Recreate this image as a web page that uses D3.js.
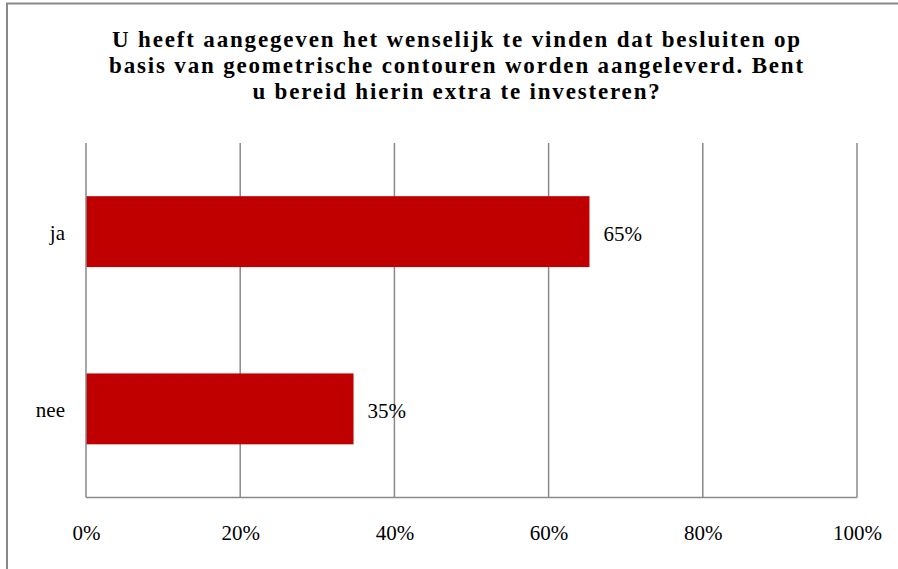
<!DOCTYPE html>
<html>
<head>
<meta charset="utf-8">
<script src="https://cdn.jsdelivr.net/npm/d3@7"></script>
<style>
  body { margin: 0; background: #fff; }
  svg { display: block; }
</style>
</head>
<body>
<div id="chart"></div>
<script>
// data
var categories = ["ja", "nee"];
var values = [0.653, 0.347];
var valueLabels = ["65%", "35%"];
var ticks = [0, 0.2, 0.4, 0.6, 0.8, 1.0];
var titleLines = [
    "U heeft aangegeven het wenselijk te vinden dat besluiten op",
    "basis van geometrische contouren worden aangeleverd. Bent",
    "u bereid hierin extra te investeren?"
];

var W = 898, H = 569;
var margin = { top: 143, right: 41, bottom: 71.5, left: 86 },
    width = W - margin.left - margin.right,
    height = H - margin.top - margin.bottom;

var gridColor = "#898989";
var font = "'Liberation Serif', 'Times New Roman', serif";

var svg = d3.select("#chart")
    .append("svg")
    .attr("width", W)
    .attr("height", H);

// outer chart border (runs off the right / bottom edge)
svg.append("rect")
    .attr("x", 7)
    .attr("y", 3.5)
    .attr("width", W + 20)
    .attr("height", H + 20)
    .attr("fill", "none")
    .attr("stroke", gridColor)
    .attr("stroke-width", 2);

// title
var title = svg.append("text")
    .attr("text-anchor", "middle")
    .style("font-family", font)
    .style("font-weight", "bold")
    .style("font-size", "23px")
    .attr("fill", "#000");

title.selectAll("tspan")
    .data(titleLines)
    .enter()
    .append("tspan")
    .attr("x", 457)
    .attr("y", function (d, i) { return 47 + i * 26; })
    .text(function (d) { return d; });

// a little letter spacing so line 1 spans like the reference
var first = title.select("tspan").node();
var l1 = first.getComputedTextLength();
var ls = Math.max(0, (688 - l1) / (titleLines[0].length - 1));
title.style("letter-spacing", ls + "px");

var g = svg.append("g")
    .attr("transform", "translate(" + margin.left + "," + margin.top + ")");

var x = d3.scaleLinear()
    .domain([0, 1])
    .range([0, width]);

var y = d3.scaleBand()
    .domain(categories)
    .range([0, height])
    .paddingInner(0.6)
    .paddingOuter(0.3);

// gridlines
g.selectAll(".grid")
    .data(ticks.slice(1))
    .enter()
    .append("line")
    .attr("x1", function (d) { return x(d); })
    .attr("x2", function (d) { return x(d); })
    .attr("y1", 0)
    .attr("y2", height)
    .attr("stroke", gridColor)
    .attr("stroke-width", 1.5);

// bars
g.selectAll(".bar")
    .data(values)
    .enter()
    .append("rect")
    .attr("x", x(0))
    .attr("y", function (d, i) { return y(categories[i]); })
    .attr("width", function (d) { return x(d); })
    .attr("height", y.bandwidth())
    .attr("fill", "#c00000");

// value labels
g.selectAll(".val")
    .data(values)
    .enter()
    .append("text")
    .attr("x", function (d) { return x(d) + 14; })
    .attr("y", function (d, i) { return y(categories[i]) + y.bandwidth() / 2 + 9; })
    .style("font-family", font)
    .style("font-size", "21px")
    .attr("fill", "#000")
    .text(function (d, i) { return valueLabels[i]; });

// category axis
var yAxis = g.append("g")
    .call(d3.axisLeft(y).tickSize(0).tickPadding(21));
yAxis.select(".domain").remove();
yAxis.selectAll("text")
    .attr("dy", "0.4em")
    .style("font-family", font)
    .style("font-size", "21px")
    .attr("fill", "#000");

// value axis
var xAxis = g.append("g")
    .attr("transform", "translate(0," + height + ")")
    .call(d3.axisBottom(x).tickValues(ticks).tickFormat(d3.format(".0%")).tickSize(0).tickPadding(28));
xAxis.select(".domain").remove();
xAxis.selectAll("text")
    .style("font-family", font)
    .style("font-size", "21px")
    .attr("fill", "#000");

// axis lines
g.append("line")
    .attr("x1", 0).attr("x2", width)
    .attr("y1", height).attr("y2", height)
    .attr("stroke", gridColor)
    .attr("stroke-width", 1.5);
g.append("line")
    .attr("x1", 0).attr("x2", 0)
    .attr("y1", 0).attr("y2", height)
    .attr("stroke", gridColor)
    .attr("stroke-width", 1.5);
</script>
</body>
</html>
